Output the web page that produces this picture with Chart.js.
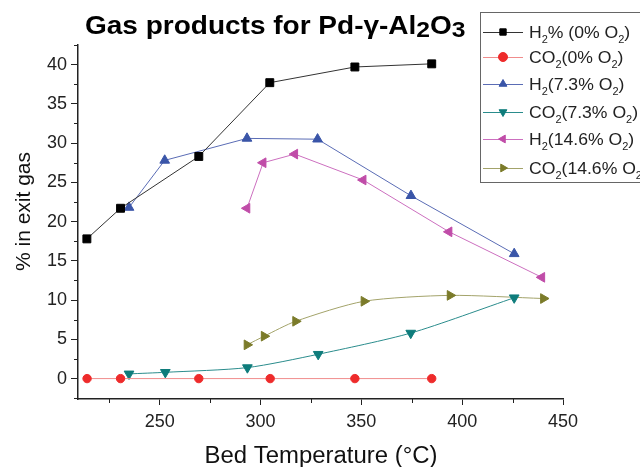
<!DOCTYPE html>
<html>
<head>
<meta charset="utf-8">
<script src="https://cdn.jsdelivr.net/npm/chart.js@4.4.0/dist/chart.umd.min.js"></script>
<style>
  html, body { margin: 0; padding: 0; background: #fff; }
</style>
</head>
<body>
<canvas id="gas-chart" width="640" height="467"></canvas>
<script>
// values (bed temperature in °C, % in exit gas)
const h2NoO2Temp = [213.9, 230.6, 269.4, 304.6, 346.8, 384.9];
const h2NoO2 = [17.8, 21.7, 28.3, 37.7, 39.7, 40.1];
const co2NoO2Temp = [214.0, 230.6, 269.4, 304.8, 346.8, 384.9];
const co2NoO2 = [0, 0, 0, 0, 0, 0];
const h2LowO2Temp = [234.8, 252.5, 293.3, 328.3, 374.6, 425.8];
const h2LowO2 = [21.8, 27.8, 30.6, 30.5, 23.3, 15.9];
const co2LowO2Temp = [234.8, 252.8, 293.5, 328.6, 374.5, 425.8];
const co2LowO2 = [0.6, 0.8, 1.4, 3.1, 5.8, 10.3];
const h2HighO2Temp = [293.3, 301.3, 317.0, 350.9, 393.5, 439.5];
const h2HighO2 = [21.7, 27.5, 28.6, 25.3, 18.7, 12.9];
const co2HighO2Temp = [293.3, 301.8, 317.4, 351.3, 394.0, 440.3];
const co2HighO2 = [4.3, 5.4, 7.3, 9.85, 10.6, 10.2];

const seriesLabels = [
  "H_2% (0% O_2)",
  "CO_2(0% O_2)",
  "H_2(7.3% O_2)",
  "CO_2(7.3% O_2)",
  "H_2(14.6% O_2)",
  "CO_2(14.6% O_2)",
];

const xTicks = [250, 300, 350, 400, 450];
const xMinorTicks = [225, 275, 325, 375, 425];
const yTicks = [0, 5, 10, 15, 20, 25, 30, 35, 40];
const yMinorTicks = [-2.5, 2.5, 7.5, 12.5, 17.5, 22.5, 27.5, 32.5, 37.5, 42.5];

const chartTitle = "Gas products for Pd-\u03b3-Al_2O_3";
const xTitle = "Bed Temperature (\u00b0C)";
const yTitle = "% in exit gas";

const FONT = '"Liberation Sans", Arial, sans-serif';
const AXIS_COLOR = "#222";

function toPoints(xs, ys) {
  return xs.map((x, i) => ({ x: x, y: ys[i] }));
}

function makeDataset(label, xs, ys, lineColor, markColor, style, rotation, radius, tension) {
  return {
    label: label,
    data: toPoints(xs, ys),
    borderColor: lineColor,
    borderWidth: 1,
    backgroundColor: markColor,
    pointBackgroundColor: markColor,
    pointBorderColor: markColor,
    pointBorderWidth: 1,
    pointStyle: style,
    pointRotation: rotation,
    pointRadius: radius,
    tension: tension,
    showLine: true,
  };
}

const datasets = [
  makeDataset(seriesLabels[0], h2NoO2Temp, h2NoO2, "#333333", "#000000", "rect", 0, 5.6, 0),
  makeDataset(seriesLabels[1], co2NoO2Temp, co2NoO2, "#f08c8c", "#ee2b2b", "circle", 0, 4.2, 0),
  makeDataset(seriesLabels[2], h2LowO2Temp, h2LowO2, "#5a6cb5", "#3a55a8", "triangle", 0, 5.6, 0),
  makeDataset(seriesLabels[3], co2LowO2Temp, co2LowO2, "#2a8c8c", "#0e7c7b", "triangle", 180, 5.6, 0.25),
  makeDataset(seriesLabels[4], h2HighO2Temp, h2HighO2, "#cc6fbf", "#c04ca8", "triangle", -90, 5.6, 0),
  makeDataset(seriesLabels[5], co2HighO2Temp, co2HighO2, "#a3a36a", "#7b7b2a", "triangle", 90, 5.6, 0.25),
];

// text with "_x" marking a subscript character, stretched sideways by sx
function drawRichText(ctx, text, x, y, font, subFont, subShift, sx) {
  const parts = text.split(/(_.)/);
  ctx.save();
  ctx.translate(x, y);
  ctx.scale(sx, 1);
  let cursor = 0;
  for (const part of parts) {
    if (part === "") continue;
    if (part.startsWith("_")) {
      ctx.font = subFont;
      ctx.fillText(part.slice(1), cursor, subShift);
      cursor += ctx.measureText(part.slice(1)).width;
    } else {
      ctx.font = font;
      ctx.fillText(part, cursor, 0);
      cursor += ctx.measureText(part).width;
    }
  }
  ctx.restore();
}

const decorations = {
  id: "decorations",
  afterDraw(chart) {
    const ctx = chart.ctx;
    const xScale = chart.scales.x;
    const yScale = chart.scales.y;
    ctx.save();

    // minor ticks
    ctx.strokeStyle = AXIS_COLOR;
    ctx.lineWidth = 1;
    ctx.beginPath();
    for (const v of xMinorTicks) {
      const px = Math.round(xScale.getPixelForValue(v)) + 0.5;
      ctx.moveTo(px, yScale.bottom);
      ctx.lineTo(px, yScale.bottom + 4);
    }
    for (const v of yMinorTicks) {
      if (v < yScale.min || v > yScale.max) continue;
      const py = Math.round(yScale.getPixelForValue(v)) + 0.5;
      ctx.moveTo(xScale.left, py);
      ctx.lineTo(xScale.left - 4, py);
    }
    ctx.stroke();

    // title
    ctx.fillStyle = "#000";
    ctx.textBaseline = "alphabetic";
    ctx.textAlign = "left";
    drawRichText(ctx, chartTitle, 85, 34, "bold 25px " + FONT, "bold 22px " + FONT, 3, 1.12);

    // axis titles
    ctx.fillStyle = "#111";
    ctx.font = "23px " + FONT;
    ctx.textAlign = "center";
    ctx.save();
    ctx.translate(321, 463);
    ctx.scale(1.04, 1);
    ctx.fillText(xTitle, 0, 0);
    ctx.restore();
    ctx.font = "21px " + FONT;
    ctx.save();
    ctx.translate(30, 211.5);
    ctx.rotate(-Math.PI / 2);
    ctx.fillText(yTitle, 0, 0);
    ctx.restore();

    // legend
    ctx.textAlign = "left";
    ctx.strokeStyle = "#666";
    ctx.lineWidth = 1;
    ctx.strokeRect(480.5, 12.5, 200, 170);
    const rowY = [32, 57, 84, 112, 139, 168];
    chart.data.datasets.forEach((ds, i) => {
      const y = rowY[i];
      ctx.strokeStyle = ds.borderColor;
      ctx.beginPath();
      ctx.moveTo(483, y + 0.5);
      ctx.lineTo(523, y + 0.5);
      ctx.stroke();
      ctx.fillStyle = ds.pointBackgroundColor;
      ctx.strokeStyle = ds.pointBorderColor;
      Chart.helpers.drawPoint(ctx, {
        pointStyle: ds.pointStyle,
        rotation: ds.pointRotation,
        radius: 4.5,
        borderWidth: 1,
      }, 503, y);
      ctx.fillStyle = "#222";
      drawRichText(ctx, ds.label, 529, y + 6, "16px " + FONT, "10px " + FONT, 5, 1.1);
    });

    ctx.restore();
  },
};

new Chart(document.getElementById("gas-chart"), {
  type: "scatter",
  data: { datasets: datasets },
  plugins: [decorations],
  options: {
    responsive: false,
    animation: false,
    layout: { padding: { top: 45, right: 77, left: 0, bottom: 0 } },
    plugins: {
      legend: { display: false },
      tooltip: { enabled: false },
      title: { display: false },
    },
    scales: {
      x: {
        type: "linear",
        min: 209.5,
        max: 450,
        afterBuildTicks: (scale) => {
          scale.ticks = xTicks.map((v) => ({ value: v }));
        },
        afterFit: (scale) => {
          scale.height = 68;
        },
        ticks: {
          font: { family: FONT, size: 18 },
          color: AXIS_COLOR,
          padding: 6,
          maxRotation: 0,
        },
        grid: {
          drawOnChartArea: false,
          tickLength: 6,
          color: AXIS_COLOR,
        },
        border: { color: AXIS_COLOR, width: 1.5 },
      },
      y: {
        type: "linear",
        min: -2.6,
        max: 42.5,
        afterBuildTicks: (scale) => {
          scale.ticks = yTicks.map((v) => ({ value: v }));
        },
        afterFit: (scale) => {
          scale.width = 78;
        },
        ticks: {
          font: { family: FONT, size: 18 },
          color: AXIS_COLOR,
          padding: 4,
        },
        grid: {
          drawOnChartArea: false,
          tickLength: 7,
          color: AXIS_COLOR,
        },
        border: { color: AXIS_COLOR, width: 1.5 },
      },
    },
  },
});
</script>
</body>
</html>
